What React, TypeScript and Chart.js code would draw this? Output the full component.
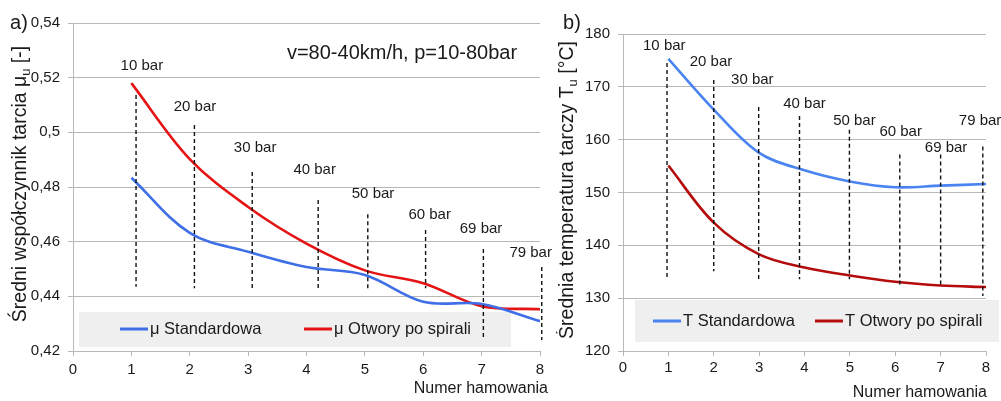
import React, { useEffect, useRef } from "react";
import { Chart, registerables } from "chart.js";

Chart.register(...registerables);

// ---------- DATA ----------
const brakingNumber = [1, 2, 3, 4, 5, 6, 7, 8];
const pressureLabels = ["10 bar", "20 bar", "30 bar", "40 bar", "50 bar", "60 bar", "69 bar", "79 bar"];

// panel a) – mean friction coefficient
const muStandard = [0.4834, 0.4632, 0.4563, 0.4507, 0.4478, 0.438, 0.4372, 0.4309];
const muSpiral = [0.518, 0.4902, 0.4727, 0.4593, 0.4495, 0.4448, 0.4364, 0.4353];
const muMarkerX = [1.08, 2.08, 3.07, 4.2, 5.05, 6.04, 7.03, 8.03];
const muMarkerTop = [0.5137, 0.5027, 0.4855, 0.4752, 0.47, 0.4643, 0.4573, 0.4507];
const muMarkerBottom = [0.4435, 0.443, 0.443, 0.443, 0.443, 0.443, 0.4248, 0.424];
const muLabelX = [1.18, 2.09, 3.12, 4.14, 5.14, 6.11, 6.99, 7.84];
const muLabelY = [0.5243, 0.5093, 0.4943, 0.4862, 0.4774, 0.4697, 0.4646, 0.4558];

// panel b) – mean disc temperature
const tStandard = [175.3, 165.7, 157.5, 154.2, 152.1, 151.0, 151.3, 151.6];
const tSpiral = [155.1, 144.3, 138.3, 135.8, 134.3, 133.1, 132.4, 132.1];
const tMarkerX = [0.97, 2.0, 2.99, 3.89, 4.99, 6.1, 7.0, 7.93];
const tMarkerTop = [174.5, 171.3, 166.2, 164.5, 161.9, 157.2, 157.2, 158.7];
const tMarkerBottom = [133.6, 135.1, 133.6, 133.6, 133.6, 132.1, 132.1, 130.4];
const tLabelX = [0.91, 1.94, 2.85, 4.0, 5.1, 6.12, 7.12, 7.87];
const tLabelY = [177.7, 174.7, 171.3, 166.8, 163.6, 161.5, 158.5, 163.6];

// ---------- STYLE ----------
const FONT = "'Liberation Sans', Arial, sans-serif";
const NARROW = "'Liberation Sans Narrow', 'Liberation Sans', Arial, sans-serif";
const GRID = "#b8b8b8";
const TEXT = "#1a1a1a";

type Spec = {
  id: string;
  width: number;
  left: number;
  padding: { left: number; top: number; right: number; bottom: number };
  yAxisWidth: number;
  xAxisHeight: number;
  yMin: number;
  yMax: number;
  yStep: number;
  yFormat: (v: number) => string;
  xTickPadding: number;
  series: { label: string; data: number[]; color: string }[];
  markerX: number[];
  markerTop: number[];
  markerBottom: number[];
  labelX: number[];
  labelY: number[];
  legend: { x: number; y: number; w: number; h: number; cy: number; items: number[] };
  yTitle: { x: number; y: number; main: string; sub: string; tail: string };
  xTitle: { x: number; y: number; text: string };
  letter: { x: number; y: number; text: string };
  note?: { x: number; y: number; text: string };
};

function overlayPlugin(spec: Spec) {
  return {
    id: "overlay-" + spec.id,
    beforeDatasetsDraw(chart: any) {
      const ctx = chart.ctx as CanvasRenderingContext2D;
      const L = spec.legend;
      ctx.save();
      ctx.fillStyle = "#efefef";
      ctx.fillRect(L.x, L.y, L.w, L.h);
      spec.series.forEach((s, i) => {
        const ix = L.items[i];
        ctx.strokeStyle = s.color;
        ctx.lineWidth = 3;
        ctx.beginPath();
        ctx.moveTo(ix, L.cy);
        ctx.lineTo(ix + 28, L.cy);
        ctx.stroke();
        ctx.fillStyle = TEXT;
        ctx.font = `16.5px ${FONT}`;
        ctx.textAlign = "left";
        ctx.textBaseline = "middle";
        ctx.fillText(s.label, ix + 30, L.cy + 0.5);
      });
      ctx.restore();
    },
    afterDraw(chart: any) {
      const ctx = chart.ctx as CanvasRenderingContext2D;
      const xs = chart.scales.x;
      const ys = chart.scales.y;
      ctx.save();
      ctx.fillStyle = TEXT;
      // pressure labels
      ctx.font = `15px ${FONT}`;
      ctx.textAlign = "center";
      ctx.textBaseline = "middle";
      pressureLabels.forEach((t, i) => {
        ctx.fillText(t, xs.getPixelForValue(spec.labelX[i]), ys.getPixelForValue(spec.labelY[i]));
      });
      // y title with subscript
      const T = spec.yTitle;
      ctx.save();
      ctx.translate(T.x, T.y);
      ctx.rotate(-Math.PI / 2);
      ctx.textAlign = "left";
      ctx.textBaseline = "middle";
      ctx.font = `19.5px ${FONT}`;
      const w1 = ctx.measureText(T.main).width;
      const w3 = ctx.measureText(T.tail).width;
      ctx.font = `13px ${FONT}`;
      const w2 = ctx.measureText(T.sub).width;
      let sx = -(w1 + w2 + w3) / 2;
      ctx.font = `19.5px ${FONT}`;
      ctx.fillText(T.main, sx, 0);
      sx += w1;
      ctx.font = `13px ${FONT}`;
      ctx.fillText(T.sub, sx, 5);
      sx += w2;
      ctx.font = `19.5px ${FONT}`;
      ctx.fillText(T.tail, sx, 0);
      ctx.restore();
      // x title
      ctx.font = `16px ${FONT}`;
      ctx.textAlign = "right";
      ctx.textBaseline = "middle";
      ctx.fillText(spec.xTitle.text, spec.xTitle.x, spec.xTitle.y);
      // panel letter
      ctx.font = `20px ${FONT}`;
      ctx.textAlign = "center";
      ctx.fillText(spec.letter.text, spec.letter.x, spec.letter.y);
      // note
      if (spec.note) {
        ctx.font = `20px ${FONT}`;
        ctx.textAlign = "center";
        ctx.fillText(spec.note.text, spec.note.x, spec.note.y);
      }
      ctx.restore();
    },
  };
}

function buildConfig(spec: Spec): any {
  const curveSets = spec.series.map((s) => ({
    label: s.label,
    data: brakingNumber.map((x, i) => ({ x, y: s.data[i] })),
    borderColor: s.color,
    backgroundColor: s.color,
    borderWidth: 2.6,
    pointRadius: 0,
    tension: 0.35,
    fill: false,
    order: 1,
  }));
  const markerSets = spec.markerX.map((x, i) => ({
    label: "marker " + pressureLabels[i],
    data: [
      { x, y: spec.markerTop[i] },
      { x, y: spec.markerBottom[i] },
    ],
    borderColor: "#111111",
    borderWidth: 1.4,
    borderDash: [4, 3],
    pointRadius: 0,
    tension: 0,
    fill: false,
    clip: false,
    order: 0,
  }));
  return {
    type: "line",
    data: { datasets: [...curveSets, ...markerSets] },
    options: {
      animation: false,
      responsive: false,
      devicePixelRatio: 1,
      parsing: true,
      layout: { padding: spec.padding },
      plugins: { legend: { display: false }, tooltip: { enabled: false } },
      events: [],
      scales: {
        x: {
          type: "linear",
          min: 0,
          max: 8,
          ticks: {
            stepSize: 1,
            color: TEXT,
            font: { family: NARROW, size: 15 },
            padding: spec.xTickPadding,
            maxRotation: 0,
            autoSkip: false,
          },
          grid: { drawOnChartArea: false, drawTicks: true, tickLength: 5, color: GRID, lineWidth: 1 },
          border: { display: true, color: GRID, width: 1 },
          afterFit: (s: any) => {
            s.height = spec.xAxisHeight;
          },
        },
        y: {
          type: "linear",
          min: spec.yMin,
          max: spec.yMax,
          ticks: {
            stepSize: spec.yStep,
            color: TEXT,
            font: { family: NARROW, size: 15 },
            padding: 8,
            callback: (v: any) => spec.yFormat(Number(v)),
          },
          grid: { color: GRID, lineWidth: 1, drawTicks: true, tickLength: 5 },
          border: { display: true, color: GRID, width: 1 },
          afterFit: (s: any) => {
            s.width = spec.yAxisWidth;
          },
        },
      },
    },
    plugins: [overlayPlugin(spec)],
  };
}

const specA: Spec = {
  id: "a",
  width: 556,
  left: 0,
  padding: { left: 0, top: 23, right: 16, bottom: 0 },
  yAxisWidth: 73,
  xAxisHeight: 50,
  yMin: 0.42,
  yMax: 0.54,
  yStep: 0.02,
  yFormat: (v) => String(Math.round(v * 100) / 100).replace(".", ","),
  xTickPadding: 5,
  series: [
    { label: "μ Standardowa", data: muStandard, color: "#3e6fe6" },
    { label: "μ Otwory po spirali", data: muSpiral, color: "#e41414" },
  ],
  markerX: muMarkerX,
  markerTop: muMarkerTop,
  markerBottom: muMarkerBottom,
  labelX: muLabelX,
  labelY: muLabelY,
  legend: { x: 79, y: 312, w: 432, h: 35, cy: 329, items: [120, 304] },
  yTitle: { x: 21, y: 184, main: "Średni współczynnik tarcia μ", sub: "u", tail: " [-]" },
  xTitle: { x: 548, y: 389, text: "Numer hamowania" },
  letter: { x: 19, y: 23, text: "a)" },
  note: { x: 402, y: 53, text: "v=80-40km/h, p=10-80bar" },
};

const specB: Spec = {
  id: "b",
  width: 445,
  left: 556,
  padding: { left: 0, top: 34, right: 15, bottom: 0 },
  yAxisWidth: 67,
  xAxisHeight: 50,
  yMin: 120,
  yMax: 180,
  yStep: 10,
  yFormat: (v) => String(Math.round(v)),
  xTickPadding: 3,
  series: [
    { label: "T Standardowa", data: tStandard, color: "#4a84f0" },
    { label: "T Otwory po spirali", data: tSpiral, color: "#b40c0c" },
  ],
  markerX: tMarkerX,
  markerTop: tMarkerTop,
  markerBottom: tMarkerBottom,
  labelX: tLabelX,
  labelY: tLabelY,
  legend: { x: 79, y: 300, w: 364, h: 42, cy: 321, items: [97, 259] },
  yTitle: { x: 12, y: 190, main: "Średnia temperatura tarczy T", sub: "u", tail: " [°C]" },
  xTitle: { x: 431, y: 393, text: "Numer hamowania" },
  letter: { x: 16, y: 23, text: "b)" },
};

function Panel({ spec }: { spec: Spec }) {
  const ref = useRef<HTMLCanvasElement>(null);
  useEffect(() => {
    if (!ref.current) return;
    const chart = new Chart(ref.current, buildConfig(spec));
    return () => chart.destroy();
  }, []);
  return (
    <canvas
      ref={ref}
      width={spec.width}
      height={401}
      style={{ position: "absolute", left: spec.left, top: 0, width: spec.width, height: 401 }}
    />
  );
}

export default function App() {
  return (
    <div style={{ position: "absolute", left: 0, top: 0, width: 1001, height: 401, background: "#ffffff" }}>
      <Panel spec={specA} />
      <Panel spec={specB} />
    </div>
  );
}
